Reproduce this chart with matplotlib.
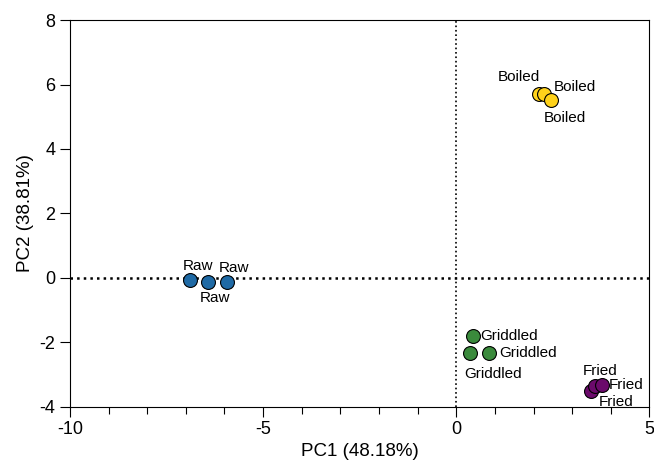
import matplotlib.pyplot as plt

plt.rcParams['font.family'] = ['Liberation Sans', 'DejaVu Sans']
plt.rcParams['axes.unicode_minus'] = False

# PCA scores
groups = ['Raw', 'Griddled', 'Fried', 'Boiled']
pc1 = {
    'Raw': [-6.9, -6.42, -5.93],
    'Griddled': [0.44, 0.36, 0.85],
    'Fried': [3.5, 3.6, 3.78],
    'Boiled': [2.14, 2.27, 2.45],
}
pc2 = {
    'Raw': [-0.07, -0.14, -0.12],
    'Griddled': [-1.8, -2.32, -2.32],
    'Fried': [-3.52, -3.35, -3.33],
    'Boiled': [5.72, 5.72, 5.52],
}
colors = {'Raw': '#1f6aa5', 'Griddled': '#3a8a3c', 'Fried': '#6b0a6b', 'Boiled': '#ffd21a'}

# label offsets (points) for each sample, relative to the marker
offsets = {
    'Raw': [(-5, 10), (-6, -11), (-6, 10)],
    'Griddled': [(5, 0), (-4, -15), (7, 0)],
    'Fried': [(5, -8), (-9, 11), (5, 0)],
    'Boiled': [(-30, 12), (7, 5), (-5, -13)],
}

fig, ax = plt.subplots(figsize=(6.54, 4.66), dpi=100)
fig.subplots_adjust(left=0.107, right=0.993, top=0.957, bottom=0.127)

ax.axhline(0, color='black', linestyle=':', linewidth=1.8, zorder=1)
ax.axvline(0, color='black', linestyle=':', linewidth=1.2, zorder=1)

for g in groups:
    ax.scatter(pc1[g], pc2[g], s=100, color=colors[g], edgecolor='black',
               linewidth=0.8, zorder=3)
    for x, y, off in zip(pc1[g], pc2[g], offsets[g]):
        ax.annotate(g, (x, y), xytext=off, textcoords='offset points',
                    fontsize=11, va='center', ha='left', zorder=4)

ax.set_xlim(-10, 5)
ax.set_ylim(-4, 8)
ax.set_xticks([-10, -5, 0, 5])
ax.set_xticks(range(-10, 6), minor=True)
ax.set_yticks(range(-4, 9, 2))
ax.tick_params(direction='out', labelsize=13, length=7, width=0.8)
ax.tick_params(which='minor', direction='out', length=5, width=0.8)
for s in ax.spines.values():
    s.set_linewidth(0.8)

ax.set_xlabel('PC1 (48.18%)', fontsize=13.5, labelpad=3)
ax.set_ylabel('PC2 (38.81%)', fontsize=13.5, labelpad=4)

fig.savefig('out.png', dpi=100)
